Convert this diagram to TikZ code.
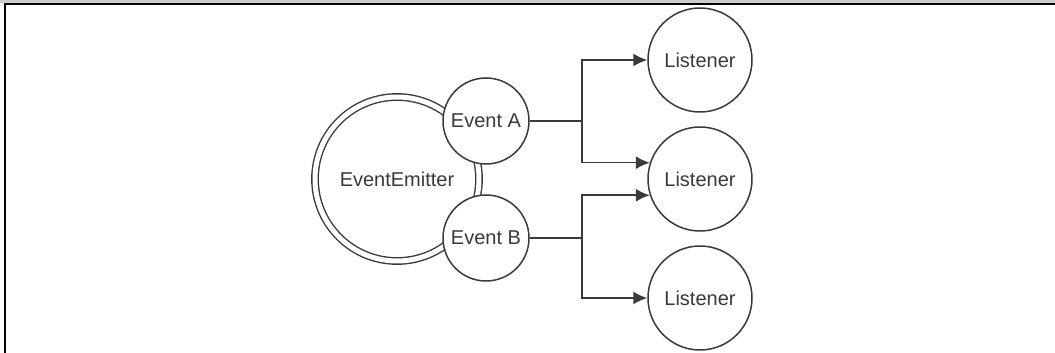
\documentclass[tikz,border=0pt]{standalone}
\usepackage{fontspec}
\setmainfont{Liberation Sans}
\usepackage{xcolor}
\usepackage{tikz}
\usetikzlibrary{calc}
\usetikzlibrary{arrows.meta}
\tikzset{>=latex}
\definecolor{ink}{HTML}{3A3A3A}
\tikzstyle{emit} = [draw=ink, circle, double, double distance = 2.5pt, line width = 0.7pt, inner sep = 0, minimum size = 82pt]
\tikzstyle{evt} = [draw=ink, circle, fill=white, inner sep = 0, minimum size = 43pt, line width = 0.75pt]
\tikzstyle{lsn} = [draw=ink, circle, inner sep = 0, minimum size = 52pt, line width = 0.75pt]
\tikzstyle{wire} = [-{Latex[length=7pt, width=6.5pt]}, draw = ink, line width = 0.8pt]

\begin{document}
\begin{tikzpicture}[x=0.5pt, y=0.5pt, text=ink]
\useasboundingbox (0,0) rectangle (1055,353);
% frame of the figure
\fill [gray!40] (0,350) rectangle (1055,353);
\draw [line width = 1pt] (5,0) -- (5,349) -- (1055,349);

\node [emit] (ee) at (397,174) {EventEmitter};
\node [evt]  (ea) at (486,232) {Event A};
\node [evt]  (eb) at (486,115) {Event B};

\node [lsn] (l1) at (700,293) {Listener};
\node [lsn] (l2) at (700,174) {Listener};
\node [lsn] (l3) at (700,55)  {Listener};

\coordinate (ja) at ($(ea.east)+(52,0)$);
\coordinate (jb) at ($(eb.east)+(52,0)$);
\draw [wire] (ea.east) -- (ja) |- (l1.west);
\draw [wire] (ja) |- (l2.162);
\draw [wire] (eb.east) -- (jb) |- (l3.west);
\draw [wire] (jb) |- (l2.198);
\end{tikzpicture}
\end{document}
